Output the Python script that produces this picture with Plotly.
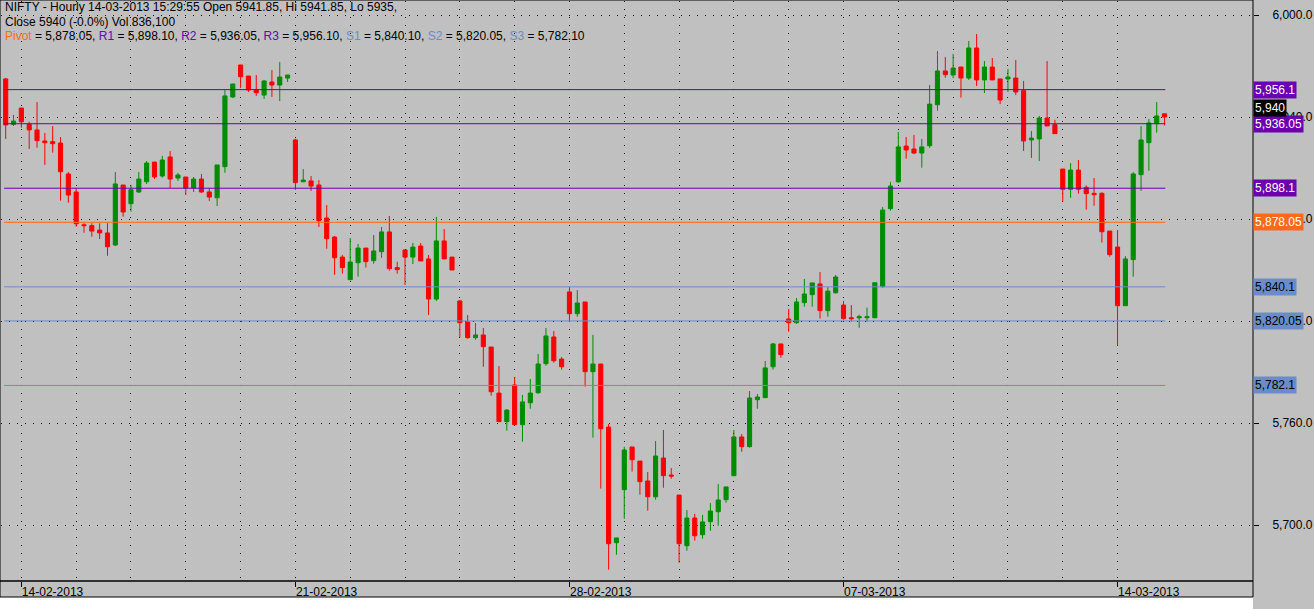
import plotly.graph_objects as go

# trading days and number of hourly bars in each (13-02 only has its last two bars on screen)
days = ["13-02-2013", "14-02-2013", "15-02-2013", "18-02-2013", "19-02-2013", "20-02-2013",
        "21-02-2013", "22-02-2013", "25-02-2013", "26-02-2013", "27-02-2013",
        "28-02-2013", "01-03-2013", "04-03-2013", "05-03-2013", "06-03-2013",
        "07-03-2013", "08-03-2013", "11-03-2013", "12-03-2013", "13-03-2013", "14-03-2013"]
bars_per_day = [2] + [7] * 21
label_days = ["14-02-2013", "21-02-2013", "28-02-2013", "07-03-2013", "14-03-2013"]

opens = [
    5962.4, 5935.7,
    5945.3, 5935.7, 5932.4, 5925.9, 5925.5, 5924.7, 5906.5,
    5895.9, 5876.6, 5876.1, 5873.5, 5871.8, 5864.7, 5900.0,
    5889.0, 5895.9, 5901.9, 5913.5, 5905.3, 5916.5, 5904.1,
    5904.7, 5898.2, 5903.5, 5895.9, 5892.5, 5910.8, 5951.8,
    5970.6, 5964.1, 5955.9, 5952.9, 5960.6, 5958.8, 5962.9,
    5926.5, 5901.9, 5902.4, 5900.0, 5880.6, 5869.4, 5857.6,
    5844.3, 5854.3, 5862.9, 5855.5, 5860.8, 5872.4, 5851.4,
    5861.8, 5857.6, 5864.1, 5856.5, 5832.9, 5867.1, 5857.6,
    5831.8, 5819.4, 5810.2, 5811.8, 5804.7, 5777.6, 5760.8,
    5782.4, 5759.0, 5771.9, 5777.8, 5794.9, 5810.6, 5797.6,
    5837.1, 5824.3, 5831.2, 5790.2, 5794.7, 5757.6, 5689.6,
    5720.8, 5745.9, 5737.6, 5725.9, 5716.6, 5739.4, 5729.4,
    5717.6, 5687.8, 5704.1, 5694.3, 5702.0, 5707.8, 5714.9,
    5729.0, 5751.8, 5746.1, 5773.7, 5774.9, 5793.1, 5806.5,
    5821.2, 5819.0, 5830.8, 5835.5, 5841.8, 5826.1, 5836.6,
    5829.4, 5821.9, 5821.9, 5821.9, 5821.9, 5840.2, 5886.1,
    5901.9, 5922.9, 5921.2, 5918.8, 5923.1, 5947.2, 5967.1,
    5964.7, 5969.4, 5962.9, 5980.6, 5961.8, 5969.4, 5962.4,
    5962.4, 5962.9, 5955.5, 5926.5, 5927.1, 5939.4, 5935.5,
    5909.4, 5897.5, 5908.8, 5898.6, 5895.1, 5895.1, 5872.9,
    5863.5, 5829.0, 5856.1, 5906.1, 5924.9, 5936.1, 5941.85,
]
highs = [
    5963.0, 5941.2,
    5945.3, 5937.2, 5948.8, 5930.6, 5934.7, 5928.2, 5907.6,
    5898.2, 5877.5, 5877.5, 5877.5, 5877.5, 5907.6, 5900.0,
    5900.0, 5907.6, 5914.1, 5913.5, 5917.1, 5920.0, 5907.1,
    5904.7, 5904.7, 5906.5, 5898.2, 5911.8, 5955.9, 5959.4,
    5970.6, 5964.1, 5964.7, 5961.8, 5967.6, 5972.4, 5964.7,
    5927.1, 5909.4, 5905.3, 5902.9, 5888.2, 5870.0, 5858.8,
    5868.8, 5865.3, 5862.9, 5870.6, 5875.3, 5881.8, 5854.9,
    5861.8, 5865.9, 5865.9, 5858.8, 5881.2, 5874.1, 5857.6,
    5832.4, 5823.5, 5818.8, 5815.9, 5804.7, 5793.5, 5768.2,
    5787.1, 5776.5, 5785.9, 5800.6, 5815.9, 5814.1, 5798.8,
    5840.0, 5838.2, 5831.2, 5811.8, 5794.7, 5759.4, 5692.4,
    5745.9, 5745.9, 5737.6, 5731.2, 5749.4, 5755.9, 5733.5,
    5717.6, 5708.8, 5706.5, 5705.9, 5712.9, 5724.1, 5722.4,
    5755.9, 5753.5, 5778.8, 5777.1, 5796.5, 5807.1, 5806.5,
    5827.1, 5833.5, 5844.7, 5842.4, 5848.8, 5840.0, 5847.1,
    5831.8, 5829.4, 5823.7, 5827.9, 5842.5, 5887.1, 5901.8,
    5931.2, 5928.2, 5929.4, 5927.1, 5958.8, 5978.8, 5975.3,
    5977.1, 5969.4, 5984.7, 5988.8, 5972.9, 5974.7, 5962.4,
    5968.2, 5973.5, 5961.2, 5931.8, 5940.6, 5972.9, 5938.4,
    5909.4, 5912.9, 5914.7, 5899.8, 5904.1, 5895.7, 5872.9,
    5873.5, 5858.2, 5907.6, 5934.7, 5938.8, 5948.8, 5941.85,
]
lows = [
    5927.1, 5934.7,
    5933.7, 5921.2, 5921.9, 5911.8, 5919.0, 5890.8, 5889.6,
    5875.5, 5871.9, 5869.6, 5868.2, 5858.4, 5864.1, 5881.4,
    5884.3, 5895.3, 5900.6, 5903.5, 5904.3, 5898.2, 5902.4,
    5894.1, 5895.9, 5895.3, 5890.6, 5887.6, 5907.2, 5951.2,
    5957.1, 5954.7, 5952.4, 5950.6, 5951.8, 5949.4, 5960.6,
    5897.2, 5901.9, 5896.5, 5875.3, 5862.5, 5847.2, 5847.8,
    5844.3, 5846.1, 5851.4, 5853.7, 5857.2, 5849.6, 5847.8,
    5841.2, 5853.5, 5855.3, 5823.5, 5831.8, 5856.5, 5850.0,
    5810.2, 5809.6, 5809.0, 5793.1, 5776.1, 5760.8, 5755.5,
    5759.0, 5749.0, 5768.4, 5777.2, 5793.7, 5795.5, 5791.4,
    5819.6, 5822.5, 5781.4, 5751.4, 5721.4, 5673.7, 5682.5,
    5703.7, 5731.4, 5717.8, 5708.4, 5714.9, 5721.9, 5727.2,
    5677.8, 5684.9, 5690.8, 5692.0, 5696.6, 5699.6, 5713.1,
    5729.0, 5743.1, 5745.5, 5768.4, 5774.9, 5791.4, 5798.4,
    5813.7, 5818.4, 5828.4, 5828.4, 5821.4, 5822.5, 5836.1,
    5820.8, 5819.6, 5816.0, 5819.6, 5821.9, 5839.6, 5884.9,
    5901.4, 5915.5, 5918.2, 5910.2, 5921.9, 5943.7, 5963.1,
    5962.9, 5951.4, 5961.8, 5958.2, 5954.1, 5961.8, 5947.6,
    5954.7, 5952.9, 5920.0, 5915.9, 5914.1, 5934.7, 5930.2,
    5890.2, 5892.5, 5894.9, 5885.5, 5887.8, 5866.1, 5857.8,
    5805.5, 5829.0, 5846.1, 5896.6, 5908.4, 5930.8, 5935.0,
]
closes = [
    5935.3, 5937.6,
    5937.2, 5932.4, 5926.1, 5924.9, 5924.3, 5907.8, 5894.1,
    5877.2, 5876.1, 5872.9, 5871.8, 5863.7, 5900.6, 5884.1,
    5897.2, 5903.5, 5912.9, 5904.7, 5914.7, 5903.5, 5905.9,
    5898.2, 5903.5, 5895.9, 5892.9, 5911.8, 5952.4, 5959.4,
    5963.7, 5955.9, 5954.3, 5961.2, 5958.8, 5963.5, 5964.7,
    5901.4, 5902.9, 5899.4, 5879.0, 5868.4, 5857.2, 5851.4,
    5854.7, 5862.9, 5854.9, 5861.2, 5872.4, 5850.8, 5850.2,
    5857.6, 5863.5, 5855.3, 5832.9, 5867.1, 5856.5, 5850.0,
    5819.0, 5810.2, 5811.8, 5804.9, 5778.4, 5760.8, 5767.6,
    5759.0, 5772.4, 5777.6, 5794.7, 5811.2, 5796.6, 5793.1,
    5824.3, 5830.6, 5790.2, 5794.7, 5756.6, 5689.0, 5692.4,
    5744.1, 5738.4, 5725.5, 5716.6, 5740.6, 5729.0, 5728.8,
    5689.0, 5704.1, 5693.7, 5701.8, 5708.2, 5714.7, 5722.4,
    5751.8, 5746.1, 5774.7, 5775.3, 5792.4, 5806.5, 5800.2,
    5819.0, 5831.2, 5835.9, 5842.4, 5826.1, 5837.6, 5845.9,
    5821.4, 5821.4, 5822.5, 5822.5, 5842.5, 5885.3, 5899.4,
    5922.4, 5920.6, 5918.8, 5922.4, 5947.6, 5967.1, 5964.9,
    5968.8, 5962.9, 5980.6, 5961.8, 5969.4, 5961.8, 5950.0,
    5963.5, 5954.7, 5925.9, 5927.6, 5939.4, 5934.7, 5930.2,
    5897.5, 5908.8, 5897.5, 5894.9, 5894.3, 5872.5, 5859.0,
    5829.0, 5856.5, 5906.5, 5926.5, 5936.5, 5940.6, 5940.0,
]
last_volume = 836100
last_time = "15:29:55"

# classic pivot levels printed in the title line
level_names = ["Pivot", "R1", "R2", "R3", "S1", "S2", "S3"]
level_values = [5878.05, 5898.10, 5936.05, 5956.10, 5840.10, 5820.05, 5782.10]

UP = "#008c00"
DOWN = "#ff0000"
PIVOT_C = "#ff6a1a"
R_C = "#6a00b0"
S_C = "#6b8cc8"
BG = "#c0c0c0"

W, H = 1314, 609
PL, PR, PT, PB = 1, 1253, 1, 581   # plot box in pixels
STRIP_B = 597


def fy(p):
    return 1 - p / H


def fmt_level(v):
    return f"{v:,.2f}".rstrip("0").rstrip(".")


def level_color(name):
    if name == "Pivot":
        return PIVOT_C
    return R_C if name.startswith("R") else S_C


bar_x = list(range(1, len(closes) + 1))
day_start = []
n = 1
for d, cnt in zip(days, bars_per_day):
    day_start.append(n)
    n += cnt
grid_x = day_start[1:]
label_x = [day_start[days.index(d)] for d in label_days]

fig = go.Figure()

for name, val in zip(level_names, level_values):
    fig.add_trace(go.Scatter(
        x=[bar_x[0] - 0.2, bar_x[-1] + 0.1], y=[val, val],
        mode="lines", line={"color": level_color(name), "width": 1},
        hoverinfo="skip", showlegend=False,
    ))

fig.add_trace(go.Candlestick(
    x=bar_x, open=opens, high=highs, low=lows, close=closes,
    increasing={"line": {"color": UP, "width": 1}, "fillcolor": UP},
    decreasing={"line": {"color": DOWN, "width": 1}, "fillcolor": DOWN},
    whiskerwidth=0, hoverinfo="skip", showlegend=False,
))

# header lines
chg = (closes[-1] - closes[-2]) / closes[-2] * 100
line1 = (f"NIFTY - Hourly {days[-1]} {last_time} Open {opens[-1]:g}, "
         f"Hi {highs[-1]:g}, Lo {lows[-1]:g},")
line2 = f"Close {closes[-1]:g} ({chg:.1f}%) Vol {last_volume:,}"
parts = [f"<span style='color:{level_color(name)}'>{name}</span> = {val:,.2f}"
         for name, val in zip(level_names, level_values)]
line3 = ", ".join(parts)

annotations = []
for txt, yc in [(line1, 7), (line2, 22), (line3, 36)]:
    annotations.append(dict(
        text=txt, xref="paper", yref="paper", x=3 / W, y=fy(yc),
        xanchor="left", yanchor="middle", showarrow=False,
        font={"size": 12, "color": "black"},
    ))

# value tags on the price axis
for name, val in zip(level_names, level_values):
    fc = "black" if name.startswith("S") else "white"
    annotations.append(dict(
        text=fmt_level(val), xref="paper", yref="y", x=PR / W, y=val,
        xanchor="left", yanchor="middle", showarrow=False,
        bgcolor=level_color(name), borderpad=1, font={"size": 12, "color": fc},
    ))
annotations.append(dict(
    text=f"{closes[-1]:,.0f}", xref="paper", yref="y", x=PR / W, y=closes[-1],
    yshift=9, xanchor="left", yanchor="middle", showarrow=False,
    bgcolor="black", borderpad=1, font={"size": 12, "color": "white"},
))

# bar index <-> pixel: first bar at 5.7px, 7.83px per bar
x_lo = 1 + (PL - 5.7) / 7.83
x_hi = 1 + (PR - 5.7) / 7.83
y_top = 5940 + (117 - PT) / 1.7
y_bot = 5940 + (117 - PB) / 1.7

fig.update_layout(
    width=W, height=H,
    margin={"l": 0, "r": 0, "t": 0, "b": 0, "autoexpand": False},
    paper_bgcolor=BG, plot_bgcolor=BG,
    font={"family": "Liberation Sans, Arial, sans-serif", "size": 12, "color": "black"},
    boxgap=0.25,
    showlegend=False,
    annotations=annotations,
    xaxis={
        "domain": [PL / W, PR / W], "range": [x_lo, x_hi], "automargin": False,
        "rangeslider": {"visible": False},
        "tickmode": "array", "tickvals": label_x, "ticktext": label_days,
        "ticks": "outside", "ticklen": 5, "tickcolor": "black",
        "ticklabelposition": "outside right",
        "showgrid": True, "gridcolor": "black", "griddash": "1px,7px", "gridwidth": 1,
        "minor": {"tickmode": "array", "tickvals": grid_x, "showgrid": True,
                  "gridcolor": "black", "griddash": "1px,7px", "gridwidth": 1},
        "showline": False, "zeroline": False, "fixedrange": True,
    },
    yaxis={
        "domain": [fy(PB), fy(PT)], "range": [y_bot, y_top], "automargin": False,
        "side": "right", "tickmode": "linear", "tick0": 5700, "dtick": 60,
        "tickformat": ",.1f", "ticks": "outside", "ticklen": 5, "tickcolor": "black",
        "ticklabelstandoff": 11,
        "showgrid": True, "gridcolor": "black", "griddash": "1px,7px", "gridwidth": 1,
        "showline": False, "zeroline": False, "fixedrange": True,
    },
    shapes=[
        dict(type="rect", xref="paper", yref="paper", x0=0, x1=PR / W, y0=0, y1=fy(STRIP_B),
             fillcolor="white", line={"width": 0}, layer="below"),
        dict(type="rect", xref="paper", yref="paper", x0=0, x1=PR / W, y0=fy(PB), y1=1,
             line={"color": "black", "width": 1}),
        dict(type="rect", xref="paper", yref="paper", x0=0, x1=PR / W, y0=fy(STRIP_B), y1=fy(PB),
             line={"color": "black", "width": 1}),
    ],
)

# drop the page's default body margin so the figure sits at the window corner
fig.write_html("out.html", config={"displayModeBar": False},
               post_script="document.body.style.margin='0';")
